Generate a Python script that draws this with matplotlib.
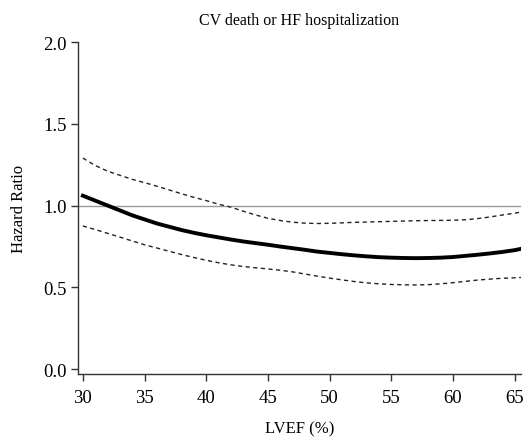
import matplotlib
matplotlib.use("Agg")
import matplotlib.pyplot as plt

# LVEF grid and hazard ratio curves
lvef = [30, 31, 32, 33, 34, 35, 36, 37, 38, 39, 40, 41, 42, 43, 44, 45, 46, 47,
        48, 49, 50, 51, 52, 53, 54, 55, 56, 57, 58, 59, 60, 61, 62, 63, 64, 65, 65.5]
hr = [1.06, 1.03, 1.00, 0.97, 0.94, 0.915, 0.89, 0.87, 0.85, 0.833, 0.818,
      0.805, 0.792, 0.78, 0.77, 0.76, 0.749, 0.739, 0.729, 0.718, 0.71, 0.702,
      0.695, 0.689, 0.684, 0.681, 0.679, 0.678, 0.679, 0.681, 0.685, 0.692,
      0.699, 0.707, 0.716, 0.727, 0.735]
upper = [1.29, 1.245, 1.21, 1.185, 1.16, 1.14, 1.118, 1.095, 1.072, 1.05, 1.03,
         1.008, 0.99, 0.965, 0.942, 0.922, 0.908, 0.898, 0.892, 0.89, 0.891,
         0.894, 0.897, 0.899, 0.901, 0.903, 0.905, 0.907, 0.908, 0.909, 0.91,
         0.913, 0.92, 0.93, 0.942, 0.953, 0.96]
lower = [0.875, 0.853, 0.83, 0.807, 0.783, 0.76, 0.74, 0.72, 0.70, 0.682, 0.665,
         0.65, 0.637, 0.627, 0.619, 0.612, 0.604, 0.594, 0.581, 0.568, 0.556,
         0.545, 0.535, 0.527, 0.521, 0.517, 0.515, 0.514, 0.516, 0.521, 0.528,
         0.536, 0.544, 0.55, 0.555, 0.558, 0.56]

x_ticks = [30, 35, 40, 45, 50, 55, 60, 65]
y_ticks = [0.0, 0.5, 1.0, 1.5, 2.0]

plt.rcParams['font.family'] = ['Liberation Serif', 'DejaVu Serif']
plt.rcParams['font.size'] = 11.5

fig = plt.figure(figsize=(5.23, 4.39), dpi=100)
ax = fig.add_axes([0.149, 0.146, 0.847, 0.756])

ax.axhline(1.0, color='#999999', lw=1.0, zorder=1)
ax.plot(lvef, upper, color='#222222', lw=1.0, ls=(0, (3, 2.5)))
ax.plot(lvef, lower, color='#222222', lw=1.0, ls=(0, (3, 2.5)))
ax.plot(lvef, hr, color='black', lw=2.8)

ax.set_xlim(29.6, 65.5)
ax.set_ylim(-0.03, 2.0)
ax.set_xticks(x_ticks)
ax.set_yticks(y_ticks)
ax.set_yticklabels(['%.1f' % t for t in y_ticks])

for s in ['top', 'right']:
    ax.spines[s].set_visible(False)
for s in ['left', 'bottom']:
    ax.spines[s].set_color('#333333')
    ax.spines[s].set_linewidth(1.0)
ax.tick_params(direction='out', length=5, width=1.0, color='#333333', pad=3,
               labelsize=13.5)
ax.tick_params(axis='x', pad=6)

ax.set_title('CV death or HF hospitalization', fontsize=11.5, pad=13)
ax.set_xlabel('LVEF (%)', fontsize=12, labelpad=10)
ax.set_ylabel('Hazard Ratio', fontsize=12, labelpad=12)

fig.savefig('out.png', dpi=100)
